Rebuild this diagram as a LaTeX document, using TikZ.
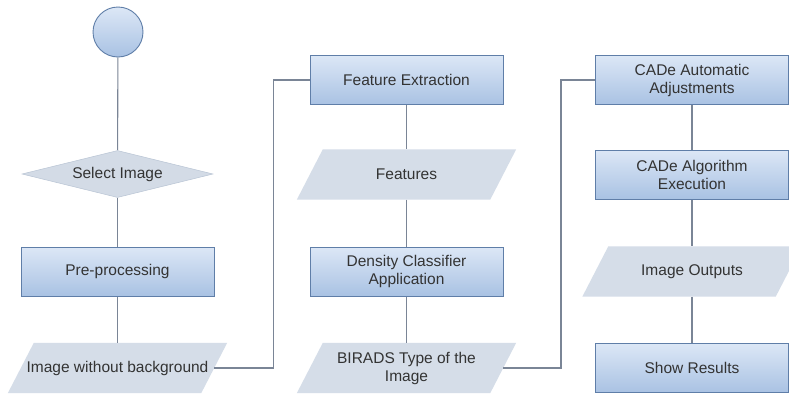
\documentclass[tikz,border=0pt]{standalone}
\usepackage{fontspec}
\setmainfont{Liberation Sans}
\usetikzlibrary{shapes.geometric,backgrounds}
\definecolor{boxtop}{HTML}{DCE7F6}
\definecolor{boxbot}{HTML}{A9C2E3}
\definecolor{boxline}{HTML}{5F7EA8}
\definecolor{parafill}{HTML}{D5DDE8}
\definecolor{diafill}{HTML}{D3DBE6}
\definecolor{diaedge}{HTML}{B8C4D4}
\definecolor{wire}{HTML}{7A8596}
\definecolor{txt}{HTML}{333333}
\tikzset{
  procbox/.style={rectangle, draw=boxline, line width=0.9pt, top color=boxtop, bottom color=boxbot,
    minimum width=193pt, minimum height=49pt, align=center, text=txt, font=\fontsize{15.5}{18}\selectfont, inner sep=2pt},
  databox/.style={rectangle, minimum width=193pt, minimum height=50pt, align=center, text=txt,
    font=\fontsize{15.5}{18}\selectfont, inner sep=2pt},
  parashape/.style={fill=parafill},
  decision/.style={diamond, aspect=4.1, draw=diaedge, line width=0.5pt, fill=diafill, minimum width=191pt, minimum height=47pt,
    inner sep=0pt, text=txt, font=\fontsize{15.5}{18}\selectfont},
  startnode/.style={circle, draw=boxline, line width=0.9pt, top color=boxtop, bottom color=boxbot, minimum size=50pt, inner sep=0pt},
  wireline/.style={draw=wire, line width=1.1pt}
}
\begin{document}
\begin{tikzpicture}[x=1pt,y=-1pt]
\useasboundingbox (0,0) rectangle (789,394);
% column 1
\node[startnode] (start) at (118,32) {};
\node[decision] (sel) at (117.5,174) {Select Image};
\node[procbox] (pre) at (117.5,271.5) {Pre-processing};
\node[databox] (iwb) at (117.5,368) {Image without background};
% column 2
\node[procbox] (fe) at (406.5,80) {Feature Extraction};
\node[databox] (feat) at (406.5,174.5) {Features};
\node[procbox] (dca) at (406.5,271.5) {Density Classifier\\Application};
\node[databox] (bir) at (406.5,368) {BIRADS Type of the\\Image};
% column 3
\node[procbox] (caa) at (692,80) {CADe Automatic\\Adjustments};
\node[procbox] (cae) at (692,174.5) {CADe Algorithm\\Execution};
\node[databox] (io) at (692,271.5) {Image Outputs};
\node[procbox] (sr) at (692,368) {Show Results};
\coordinate (k1) at (273.5,0);
\coordinate (k2) at (561,0);
\begin{scope}[on background layer]
  \fill[white] (0,0) rectangle (789,394);
  \foreach \n in {iwb,feat,bir,io}{
    \fill[parashape] ([xshift=13pt]\n.north west) -- ([xshift=13pt]\n.north east)
      -- ([xshift=-13pt]\n.south east) -- ([xshift=-13pt]\n.south west) -- cycle;
  }
  \draw[wireline] (start) -- (sel);
  \draw[wireline] (sel) -- (pre);
  \draw[wireline] (pre) -- (iwb);
  \draw[wireline] (fe) -- (feat);
  \draw[wireline] (feat) -- (dca);
  \draw[wireline] (dca) -- (bir);
  \draw[wireline] (caa) -- (cae);
  \draw[wireline] (cae) -- (io);
  \draw[wireline] (io) -- (sr);
  \draw[wireline] (iwb.east) -- (iwb.east -| k1) |- (fe.west);
  \draw[wireline] (bir.east) -- (bir.east -| k2) |- (caa.west);
\end{scope}
\end{tikzpicture}
\end{document}
